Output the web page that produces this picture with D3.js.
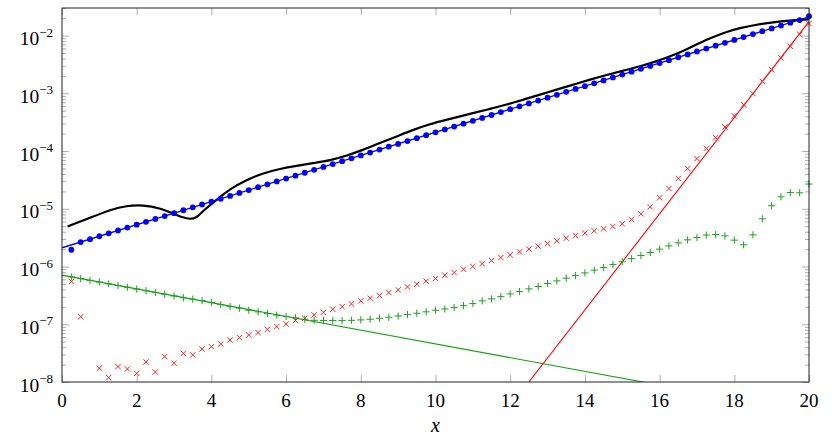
<!DOCTYPE html>
<html>
<head>
<meta charset="utf-8">
<script src="https://cdn.jsdelivr.net/npm/d3@7"></script>
<style>
  body { margin: 0; background: #fff; }
  svg { display: block; font-family: "Liberation Serif", "Times New Roman", serif; }
  .tick line { stroke: #9a9a9a; stroke-width: 0.8; }
  .domain { display: none; }
</style>
</head>
<body>
<div id="chart"></div>
<script>
// x grid of the sampled series (0.25 .. 20)
const xGrid = d3.range(1, 81).map(i => i * 0.25);

const blueDots = [
  1.95e-6, 2.65e-6, 2.98e-6, 3.34e-6, 3.75e-6, 4.21e-6, 4.72e-6, 5.30e-6, 5.94e-6, 6.67e-6,
  7.48e-6, 8.39e-6, 9.42e-6, 1.06e-5, 1.19e-5, 1.33e-5, 1.49e-5, 1.67e-5, 1.88e-5, 2.11e-5,
  2.37e-5, 2.65e-5, 2.98e-5, 3.34e-5, 3.75e-5, 4.21e-5, 4.72e-5, 5.30e-5, 5.94e-5, 6.67e-5,
  7.48e-5, 8.39e-5, 9.42e-5, 1.06e-4, 1.19e-4, 1.33e-4, 1.49e-4, 1.67e-4, 1.88e-4, 2.11e-4,
  2.37e-4, 2.65e-4, 2.98e-4, 3.34e-4, 3.75e-4, 4.21e-4, 4.72e-4, 5.30e-4, 5.94e-4, 6.67e-4,
  7.48e-4, 8.39e-4, 9.42e-4, 1.06e-3, 1.19e-3, 1.33e-3, 1.49e-3, 1.67e-3, 1.88e-3, 2.11e-3,
  2.37e-3, 2.65e-3, 2.98e-3, 3.34e-3, 3.75e-3, 4.21e-3, 4.72e-3, 5.30e-3, 5.94e-3, 6.67e-3,
  7.48e-3, 8.39e-3, 9.42e-3, 1.06e-2, 1.19e-2, 1.33e-2, 1.49e-2, 1.67e-2, 1.85e-2, 2.16e-2
];

const redCrosses = [
  5.50e-7, 1.35e-7, null, 1.74e-8, 1.19e-8, 1.85e-8, 1.68e-8, 1.41e-8, 2.22e-8, 1.49e-8,
  2.75e-8, 2.11e-8, 3.14e-8, 2.94e-8, 3.73e-8, 4.09e-8, 4.56e-8, 5.35e-8, 5.86e-8, 6.53e-8,
  7.16e-8, 8.18e-8, 9.10e-8, 1.01e-7, 1.16e-7, 1.27e-7, 1.45e-7, 1.61e-7, 1.82e-7, 2.02e-7,
  2.25e-7, 2.54e-7, 2.82e-7, 3.14e-7, 3.53e-7, 3.94e-7, 4.44e-7, 4.94e-7, 5.57e-7, 6.18e-7,
  7.08e-7, 7.85e-7, 9.00e-7, 1.00e-6, 1.12e-6, 1.27e-6, 1.43e-6, 1.59e-6, 1.79e-6, 2.00e-6,
  2.25e-6, 2.50e-6, 2.79e-6, 3.10e-6, 3.44e-6, 3.78e-6, 4.15e-6, 4.50e-6, 4.93e-6, 5.50e-6,
  6.52e-6, 8.18e-6, 1.08e-5, 1.55e-5, 2.24e-5, 3.35e-5, 4.93e-5, 7.41e-5, 1.11e-4, 1.70e-4,
  2.61e-4, 4.05e-4, 6.31e-4, 9.86e-4, 1.61e-3, 2.57e-3, 4.10e-3, 6.52e-3, 1.05e-2, 1.61e-2
];

const greenPluses = [
  6.61e-7, 6.17e-7, 5.75e-7, 5.37e-7, 5.01e-7, 4.68e-7, 4.37e-7, 4.07e-7, 3.80e-7, 3.55e-7,
  3.31e-7, 3.09e-7, 2.88e-7, 2.72e-7, 2.57e-7, 2.37e-7, 2.19e-7, 2.02e-7, 1.90e-7, 1.75e-7,
  1.64e-7, 1.53e-7, 1.44e-7, 1.36e-7, 1.29e-7, 1.22e-7, 1.17e-7, 1.16e-7, 1.16e-7, 1.16e-7,
  1.17e-7, 1.19e-7, 1.22e-7, 1.27e-7, 1.32e-7, 1.39e-7, 1.47e-7, 1.55e-7, 1.64e-7, 1.75e-7,
  1.84e-7, 1.94e-7, 2.10e-7, 2.28e-7, 2.54e-7, 2.75e-7, 3.01e-7, 3.36e-7, 3.68e-7, 4.10e-7,
  4.50e-7, 5.07e-7, 5.64e-7, 6.28e-7, 6.97e-7, 7.76e-7, 8.65e-7, 9.59e-7, 1.08e-6, 1.21e-6,
  1.37e-6, 1.55e-6, 1.75e-6, 2.00e-6, 2.28e-6, 2.57e-6, 2.90e-6, 3.18e-6, 3.50e-6, 3.58e-6,
  3.40e-6, 2.86e-6, 2.38e-6, 3.54e-6, 6.70e-6, 1.13e-5, 1.61e-5, 1.91e-5, 1.89e-5, 2.68e-5
];

// smooth black curve
const blackX = [0.15, 0.84, 1.29, 1.73, 2.18, 2.62, 2.98, 3.25, 3.43, 3.6, 3.78, 4.15, 4.5, 4.94,
  5.39, 5.84, 6.28, 6.73, 7.18, 7.62, 8.07, 8.51, 8.96, 9.41, 9.85, 10.3, 10.66, 11.01, 11.46,
  11.9, 12.35, 12.8, 13.24, 13.69, 14.14, 14.58, 15.03, 15.48, 15.92, 16.37, 16.81, 17.26,
  17.7, 18.15, 18.6, 19.04, 19.49, 19.85, 20];
const blackY = [4.93e-6, 7.35e-6, 9.6e-6, 1.13e-5, 1.16e-5, 1.03e-5, 8.2e-6, 7.0e-6, 6.6e-6,
  6.9e-6, 9.3e-6, 1.45e-5, 2.2e-5, 3.18e-5, 4.16e-5, 4.93e-5, 5.56e-5, 6.19e-5, 6.87e-5,
  8.3e-5, 1.05e-4, 1.38e-4, 1.79e-4, 2.34e-4, 2.94e-4, 3.49e-4, 3.98e-4, 4.56e-4, 5.36e-4,
  6.35e-4, 7.76e-4, 9.48e-4, 1.16e-3, 1.41e-3, 1.73e-3, 2.08e-3, 2.47e-3, 2.93e-3, 3.58e-3,
  4.55e-3, 6.11e-3, 8.51e-3, 1.11e-2, 1.36e-2, 1.55e-2, 1.70e-2, 1.82e-2, 1.89e-2, 1.90e-2];

// straight reference lines (end points)
const blueLineX = [0, 20];
const blueLineY = [2.11e-6, 2.11e-2];
const redLineX = [12.5, 20];
const redLineY = [1e-8, 1.75e-2];
const greenLineX = [0, 20];
const greenLineY = [7.1e-7, 2.95e-9];

const xTicks = [0, 2, 4, 6, 8, 10, 12, 14, 16, 18, 20];
const yExponents = [-8, -7, -6, -5, -4, -3, -2];

const w = 834;
const h = 438;
const margin = { top: 8, right: 25, bottom: 56, left: 62 };
const iw = w - margin.left - margin.right;
const ih = h - margin.top - margin.bottom;

const x = d3.scaleLinear().domain([0, 20]).range([0, iw]);
const y = d3.scaleLog().domain([1e-8, 3e-2]).range([ih, 0]);

const svg = d3.select("#chart")
    .append("svg")
    .attr("width", w)
    .attr("height", h);

const g = svg.append("g")
    .attr("transform", `translate(${margin.left},${margin.top})`);

g.append("clipPath")
    .attr("id", "clip")
    .append("rect")
    .attr("width", iw)
    .attr("height", ih);

const minorTicks = [];
yExponents.forEach(e => {
    for (let m = 2; m <= 9; m++) {
        const v = m * Math.pow(10, e);
        if (v <= 3e-2) minorTicks.push(v);
    }
});
const majorTicks = yExponents.map(e => Math.pow(10, e));

// ticks on all four sides, pointing inward
g.append("g").attr("transform", `translate(0,${ih})`)
    .call(d3.axisBottom(x).tickValues(xTicks).tickSize(-7).tickFormat(""));
g.append("g")
    .call(d3.axisTop(x).tickValues(xTicks).tickSize(-7).tickFormat(""));
g.append("g")
    .call(d3.axisLeft(y).tickValues(majorTicks).tickSize(-7).tickFormat(""));
g.append("g")
    .call(d3.axisLeft(y).tickValues(minorTicks).tickSize(-4).tickFormat(""));
g.append("g").attr("transform", `translate(${iw},0)`)
    .call(d3.axisRight(y).tickValues(majorTicks).tickSize(-7).tickFormat(""));
g.append("g").attr("transform", `translate(${iw},0)`)
    .call(d3.axisRight(y).tickValues(minorTicks).tickSize(-4).tickFormat(""));

// x tick labels
g.selectAll(".xlab")
    .data(xTicks)
    .enter()
    .append("text")
    .attr("x", d => x(d))
    .attr("y", ih + 24.5)
    .attr("text-anchor", "middle")
    .style("font-size", "19px")
    .text(d => d);

// y tick labels 10^e
const ylab = g.selectAll(".ylab")
    .data(yExponents)
    .enter()
    .append("text")
    .attr("x", -9)
    .attr("y", d => y(Math.pow(10, d)) + 9.5)
    .attr("text-anchor", "end")
    .style("font-size", "19.5px");
ylab.append("tspan").text("10");
ylab.append("tspan")
    .attr("dy", -8.5)
    .style("font-size", "13px")
    .text(d => "\u2212" + Math.abs(d));

g.append("text")
    .attr("x", iw / 2)
    .attr("y", ih + 50)
    .attr("text-anchor", "middle")
    .style("font-style", "italic")
    .style("font-size", "20px")
    .text("x");

const plot = g.append("g").attr("clip-path", "url(#clip)");

const line = d3.line()
    .x(d => x(d[0]))
    .y(d => y(d[1]));

plot.append("path")
    .datum(d3.zip(greenLineX, greenLineY))
    .attr("d", line)
    .attr("fill", "none")
    .attr("stroke", "#13a013")
    .attr("stroke-width", 1.1);

plot.append("path")
    .datum(d3.zip(redLineX, redLineY))
    .attr("d", line)
    .attr("fill", "none")
    .attr("stroke", "#ff0000")
    .attr("stroke-width", 1.1);

const smooth = d3.line()
    .x(d => x(d[0]))
    .y(d => y(d[1]))
    .curve(d3.curveBasis);

plot.append("path")
    .datum(d3.zip(blackX, blackY))
    .attr("d", smooth)
    .attr("fill", "none")
    .attr("stroke", "#000")
    .attr("stroke-width", 2.2);

plot.append("path")
    .datum(d3.zip(blueLineX, blueLineY))
    .attr("d", line)
    .attr("fill", "none")
    .attr("stroke", "#0000ff")
    .attr("stroke-width", 1.3);

// markers (not clipped)
g.selectAll(".dot")
    .data(d3.zip(xGrid, blueDots))
    .enter()
    .append("circle")
    .attr("cx", d => x(d[0]))
    .attr("cy", d => y(d[1]))
    .attr("r", 2.9)
    .attr("fill", "#0000ff");

const s = 2.7;
g.selectAll(".cross")
    .data(d3.zip(xGrid, redCrosses).filter(d => d[1] !== null))
    .enter()
    .append("path")
    .attr("transform", d => `translate(${x(d[0])},${y(d[1])})`)
    .attr("d", `M${-s},${-s}L${s},${s}M${-s},${s}L${s},${-s}`)
    .attr("stroke", "#ff2020")
    .attr("stroke-width", 1)
    .attr("fill", "none");

const p = 3.6;
g.selectAll(".plus")
    .data(d3.zip(xGrid, greenPluses))
    .enter()
    .append("path")
    .attr("transform", d => `translate(${x(d[0])},${y(d[1])})`)
    .attr("d", `M${-p},0L${p},0M0,${-p}L0,${p}`)
    .attr("stroke", "#22a022")
    .attr("stroke-width", 1)
    .attr("fill", "none");

// frame
g.append("rect")
    .attr("width", iw)
    .attr("height", ih)
    .attr("fill", "none")
    .attr("stroke", "#222")
    .attr("stroke-width", 1);
</script>
</body>
</html>
